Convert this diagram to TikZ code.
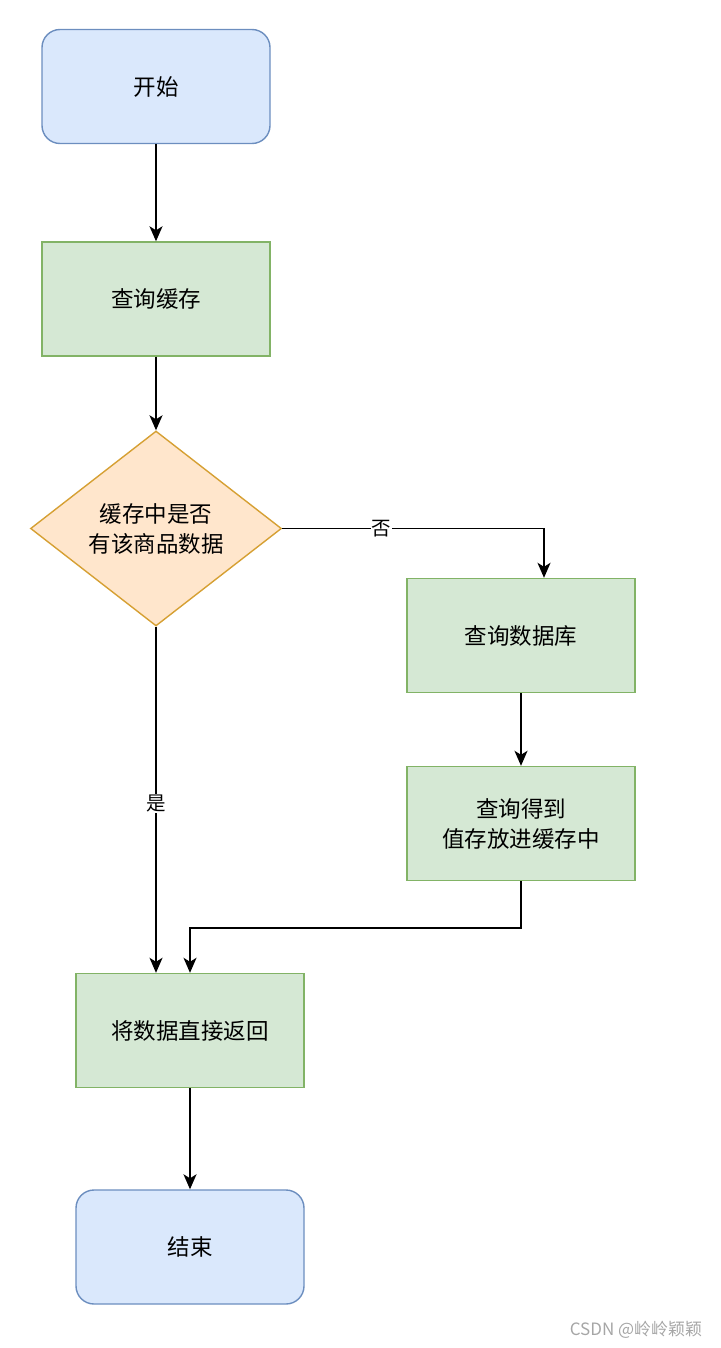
\documentclass[tikz,border=0pt]{standalone}
\usepackage{fontspec}
\setmainfont{Noto Sans CJK SC}
\usetikzlibrary{arrows.meta,positioning,calc,shapes.geometric}
\definecolor{bluefill}{HTML}{DAE8FC}
\definecolor{bluedraw}{HTML}{6C8EBF}
\definecolor{greenfill}{HTML}{D5E8D4}
\definecolor{greendraw}{HTML}{82B366}
\definecolor{orangefill}{HTML}{FFE6CC}
\definecolor{orangedraw}{HTML}{D6A033}
\tikzset{
  base/.style={minimum width=228pt,minimum height=114pt,inner sep=0pt,line width=1.4pt,
    align=center,font=\fontsize{22.5}{30}\selectfont},
  terminal/.style={base,rectangle,rounded corners=18pt,fill=bluefill,draw=bluedraw},
  process/.style={base,rectangle,fill=greenfill,draw=greendraw},
  decision/.style={base,diamond,aspect=1.29,minimum width=251pt,minimum height=195pt,
    fill=orangefill,draw=orangedraw},
  arr/.style={line width=1.7pt,-{Stealth[length=15pt,width=13pt,inset=4pt]}},
  lbl/.style={fill=white,inner sep=1pt,font=\fontsize{19.5}{22}\selectfont}
}
\begin{document}
\begin{tikzpicture}[x=1pt,y=-1pt,line join=miter]
\useasboundingbox (0,0) rectangle (720,1348);
% boxes
\node[terminal] (start) at (156,86.5) {开始};
\node[process] (qcache) at (156,299) {查询缓存};
\node[decision] (check) at (156,528.5) {缓存中是否\\有该商品数据};
\node[process] (qdb) at (521,635.5) {查询数据库};
\node[process] (store) at (521,823.5) {查询得到\\值存放进缓存中};
\node[process] (ret) at (190,1030.5) {将数据直接返回};
\node[terminal] (stop) at (190,1247) {结束};
% free ends
\coordinate (qdbin) at ($(qdb.north)+(23,0)$);
\coordinate (retin) at ($(ret.north)+(-34,0)$);
% connectors
\draw[arr] (start) -- (qcache);
\draw[arr] (qcache) -- (check);
\draw[arr] (check.east) -| node[lbl,pos=0.19] {否} (qdbin);
\draw[arr] (qdb) -- (store);
\draw[arr] (check.south) -- node[lbl,pos=0.51] {是} (retin);
\draw[arr] (store.south) -- ++(0,47) -| (ret.north);
\draw[arr] (ret) -- (stop);
% watermark
\node[text=gray!70,font=\fontsize{17}{20}\selectfont] (mark) at (636,1330) {CSDN @岭岭颖颖};
\end{tikzpicture}
\end{document}
